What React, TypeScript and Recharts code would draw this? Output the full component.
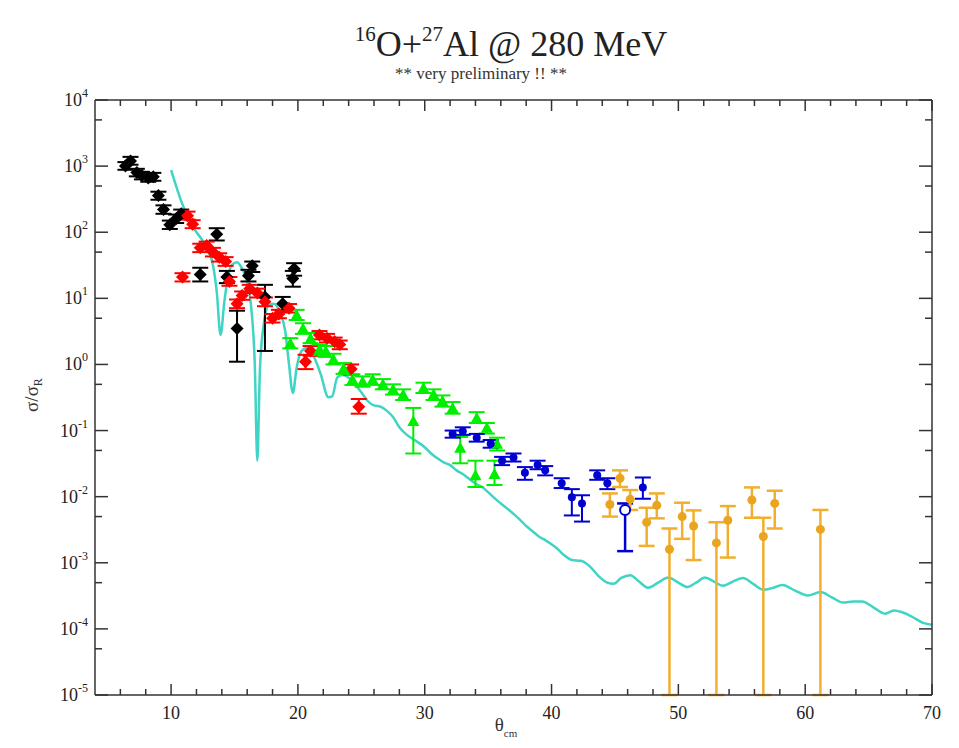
import React from 'react'
import { ComposedChart, Line, Scatter, XAxis, YAxis, ErrorBar } from 'recharts'

// [theta_cm, sigma/sigmaR, lower end of error bar, upper end of error bar]
type Pt = [number, number, number, number]

const black: Pt[] = [
  [6.4, 1000, 880, 1150], [6.8, 1200, 1050, 1380], [7.3, 800, 700, 910],
  [7.7, 720, 630, 820], [8.2, 660, 580, 750], [8.6, 690, 600, 790],
  [9.0, 360, 310, 410], [9.4, 220, 190, 255], [9.9, 130, 112, 150],
  [10.4, 160, 138, 185], [10.8, 190, 165, 220], [12.3, 23, 18, 29],
  [13.6, 93, 75, 115], [14.4, 21, 17, 26], [15.2, 3.5, 1.1, 6.5],
  [16.1, 22, 18, 27], [16.4, 31, 25, 36], [17.4, 10.5, 1.6, 16],
  [18.8, 8.3, 6.5, 10.5], [19.6, 20, 15, 26], [19.7, 28, 22, 34],
]

const red: Pt[] = [
  [10.9, 21, 18, 24], [11.3, 178, 155, 205], [11.7, 132, 115, 152],
  [12.3, 58, 50, 67], [12.8, 63, 55, 72], [13.3, 50, 43, 58],
  [13.8, 42, 36, 48], [14.3, 36, 31, 42], [14.6, 18, 15.5, 21],
  [15.2, 8.3, 7.1, 9.6], [15.6, 11, 9.5, 12.7], [16.2, 14, 12, 16],
  [16.8, 12, 10.3, 14], [17.4, 8.9, 7.6, 10.3], [18.0, 5.0, 4.3, 5.8],
  [18.5, 5.8, 5.0, 6.7], [19.3, 7.1, 6.1, 8.2], [20.6, 1.1, 0.85, 1.4],
  [21.0, 1.6, 1.35, 1.9], [21.7, 2.8, 2.4, 3.2], [22.3, 2.5, 2.15, 2.9],
  [22.9, 2.2, 1.9, 2.55], [23.3, 2.0, 1.7, 2.3], [24.2, 0.85, 0.7, 1.0],
  [24.8, 0.23, 0.18, 0.3],
]

const green: Pt[] = [
  [19.4, 2.1, 1.75, 2.5], [19.9, 5.6, 4.7, 6.7], [20.4, 3.5, 2.9, 4.2],
  [21.0, 2.5, 2.1, 3.0], [21.7, 1.7, 1.4, 2.0], [22.2, 1.6, 1.3, 1.9],
  [22.8, 1.2, 1.0, 1.45], [23.6, 0.87, 0.72, 1.05], [24.3, 0.59, 0.49, 0.71],
  [25.1, 0.55, 0.46, 0.66], [25.9, 0.59, 0.49, 0.71], [26.7, 0.5, 0.42, 0.6],
  [27.5, 0.42, 0.35, 0.5], [28.3, 0.35, 0.29, 0.42], [29.1, 0.14, 0.045, 0.22],
  [29.9, 0.44, 0.37, 0.53], [30.7, 0.35, 0.29, 0.42], [31.4, 0.28, 0.23, 0.34],
  [32.2, 0.22, 0.18, 0.27], [32.8, 0.055, 0.032, 0.08], [34.0, 0.021, 0.014, 0.035],
  [34.1, 0.155, 0.13, 0.19], [34.9, 0.11, 0.09, 0.13], [35.5, 0.022, 0.015, 0.035],
  [35.7, 0.063, 0.05, 0.078],
]

const blue: Pt[] = [
  [32.2, 0.089, 0.078, 0.1], [33.0, 0.098, 0.086, 0.112], [34.1, 0.078, 0.068, 0.089],
  [35.2, 0.063, 0.055, 0.072], [36.1, 0.035, 0.03, 0.04], [37.0, 0.039, 0.034, 0.045],
  [37.9, 0.023, 0.018, 0.028], [38.9, 0.03, 0.026, 0.035], [39.5, 0.025, 0.021, 0.029],
  [40.8, 0.016, 0.0135, 0.019], [41.6, 0.0098, 0.0052, 0.013], [42.4, 0.0079, 0.0042, 0.0105],
  [43.6, 0.021, 0.018, 0.025], [44.4, 0.016, 0.013, 0.019], [47.2, 0.0138, 0.0093, 0.0195],
]

const blueOpen: Pt[] = [[45.8, 0.0063, 0.0015, 0.0079]]

const orange: Pt[] = [
  [44.6, 0.0076, 0.005, 0.0112], [45.4, 0.019, 0.014, 0.025], [46.2, 0.0091, 0.0063, 0.0126],
  [47.5, 0.0041, 0.0018, 0.0068], [48.3, 0.0074, 0.0047, 0.0112], [49.3, 0.0016, 1e-5, 0.0033],
  [50.3, 0.005, 0.0023, 0.0081], [51.2, 0.0036, 0.0011, 0.0062], [53.0, 0.002, 1e-5, 0.0041],
  [53.9, 0.0044, 0.0012, 0.0072], [55.8, 0.0089, 0.0048, 0.0138], [56.7, 0.0025, 1e-5, 0.0048],
  [57.6, 0.0079, 0.0033, 0.0123], [61.2, 0.0032, 1e-5, 0.0063],
]

// optical model calculation
const theory: [number, number][] = [
  [10.0, 870], [10.4, 500], [10.8, 295], [11.2, 190], [11.6, 129], [12.0, 100],
  [12.4, 79], [12.8, 58], [13.0, 49], [13.3, 32], [13.6, 12.6], [13.9, 2.8],
  [14.2, 8.9], [14.5, 22], [14.8, 32], [15.2, 35], [15.6, 28], [16.0, 18],
  [16.3, 7.9], [16.6, 1.0], [16.8, 0.035], [17.0, 0.79], [17.3, 4.0], [17.7, 7.9],
  [18.1, 8.3], [18.6, 6.0], [19.0, 3.2], [19.3, 1.0], [19.6, 0.37], [19.9, 0.89],
  [20.3, 1.6], [20.8, 1.8], [21.3, 1.26], [21.8, 0.71], [22.4, 0.32], [22.7, 0.33],
  [23.1, 0.63], [23.5, 0.69], [24.0, 0.63], [24.5, 0.5], [25.0, 0.38], [25.5, 0.28],
  [26.0, 0.24], [26.5, 0.23], [27.0, 0.2], [27.5, 0.16], [28.0, 0.112], [28.5, 0.089],
  [29.0, 0.076], [29.5, 0.066], [30.0, 0.056], [30.5, 0.045], [31.0, 0.038], [31.5, 0.033],
  [32.0, 0.03], [32.5, 0.025], [33.0, 0.022], [33.5, 0.0186], [34.0, 0.0158], [34.5, 0.0141],
  [35.0, 0.0117], [35.5, 0.0095], [36.0, 0.0079], [36.5, 0.0066], [37.0, 0.0055], [37.5, 0.0045],
  [38.0, 0.0036], [38.5, 0.003], [39.0, 0.0025], [39.5, 0.0022], [40.0, 0.0019], [40.5, 0.0016],
  [41.0, 0.0013], [41.6, 0.0011], [42.3, 0.00107], [43.0, 0.00089], [43.7, 0.00063], [44.4, 0.0005],
  [44.9, 0.00048], [45.5, 0.00059], [46.2, 0.00065], [46.9, 0.00052], [47.6, 0.00042], [48.4, 0.0005],
  [49.2, 0.0006], [50.0, 0.0005], [50.7, 0.00043], [51.4, 0.0005], [52.1, 0.0006], [52.8, 0.00052],
  [53.5, 0.00045], [54.3, 0.00052], [55.1, 0.00059], [55.9, 0.00048], [56.7, 0.00039], [57.5, 0.00042],
  [58.2, 0.00046], [59.2, 0.00038], [60.2, 0.00032], [61.2, 0.00036], [62.1, 0.0003], [63.0, 0.00025],
  [63.8, 0.00026], [64.5, 0.00026], [65.4, 0.00021], [66.3, 0.00017], [67.0, 0.00019], [67.6, 0.00018],
  [68.5, 0.00015], [69.3, 0.000123], [70.0, 0.000115],
]

const xTicks = [6, 8, 10, 12, 14, 16, 18, 20, 22, 24, 26, 28, 30, 32, 34, 36, 38, 40,
  42, 44, 46, 48, 50, 52, 54, 56, 58, 60, 62, 64, 66, 68, 70]
const yTicks = [1e-5, 5e-5, 1e-4, 5e-4, 1e-3, 5e-3, 1e-2, 5e-2, 1e-1, 5e-1,
  1, 5, 10, 50, 100, 500, 1000, 5000, 10000]

const FONT = 'Liberation Serif'
const AXIS = '#333'

const rows = (pts: Pt[]) => pts.map(([x, y, lo, hi]) => ({ x, y, err: [y - lo, hi - y] }))
const theoryRows = theory.map(([x, y]) => ({ x, y }))

const isMajorY = (v: number) => Math.abs(Math.log10(v) - Math.round(Math.log10(v))) < 1e-6

// eslint-disable-next-line @typescript-eslint/no-explicit-any
const BottomTick = ({ x, y, payload }: any) => {
  const major = payload.value % 10 === 0
  return (
    <g>
      <line x1={x} x2={x} y1={y} y2={y - (major ? 11 : 6)} stroke={AXIS} strokeWidth={1.5} />
      {major && (
        <text x={x} y={y + 24} textAnchor="middle" fontSize={18} fontFamily={FONT} fill="#222">
          {payload.value}
        </text>
      )}
    </g>
  )
}

// eslint-disable-next-line @typescript-eslint/no-explicit-any
const TopTick = ({ x, y, payload }: any) => {
  const major = payload.value % 10 === 0
  return <line x1={x} x2={x} y1={y} y2={y + (major ? 11 : 6)} stroke={AXIS} strokeWidth={1.5} />
}

// eslint-disable-next-line @typescript-eslint/no-explicit-any
const LeftTick = ({ x, y, payload }: any) => {
  const major = isMajorY(payload.value)
  return (
    <g>
      <line x1={x} x2={x + (major ? 13 : 7)} y1={y} y2={y} stroke={AXIS} strokeWidth={1.5} />
      {major && (
        <text x={x - 7} y={y + 6} textAnchor="end" fontSize={18} fontFamily={FONT} fill="#222">
          10<tspan dy={-9} fontSize={12}>{Math.round(Math.log10(payload.value))}</tspan>
        </text>
      )}
    </g>
  )
}

// eslint-disable-next-line @typescript-eslint/no-explicit-any
const RightTick = ({ x, y, payload }: any) => {
  const major = isMajorY(payload.value)
  return <line x1={x} x2={x - (major ? 13 : 7)} y1={y} y2={y} stroke={AXIS} strokeWidth={1.5} />
}

// eslint-disable-next-line @typescript-eslint/no-explicit-any
const diamond = (fill: string) => ({ cx, cy }: any) => (
  <path d={`M${cx},${cy - 6.5}L${cx + 6.5},${cy}L${cx},${cy + 6.5}L${cx - 6.5},${cy}Z`} fill={fill} />
)
// eslint-disable-next-line @typescript-eslint/no-explicit-any
const triangle = (fill: string) => ({ cx, cy }: any) => (
  <path d={`M${cx},${cy - 6}L${cx + 6},${cy + 5}L${cx - 6},${cy + 5}Z`} fill={fill} />
)
// eslint-disable-next-line @typescript-eslint/no-explicit-any
const dot = (fill: string, r: number) => ({ cx, cy }: any) => <circle cx={cx} cy={cy} r={r} fill={fill} />
// eslint-disable-next-line @typescript-eslint/no-explicit-any
const ring = (stroke: string) => ({ cx, cy }: any) => (
  <circle cx={cx} cy={cy} r={5} fill="#fff" stroke={stroke} strokeWidth={2} />
)

const series = [
  { name: 'black', pts: black, color: '#000000', shape: diamond('#000000'), ew: 2 },
  { name: 'red', pts: red, color: '#ff0000', shape: diamond('#ff0000'), ew: 2 },
  { name: 'green', pts: green, color: '#00ee00', shape: triangle('#00ee00'), ew: 2 },
  { name: 'blue', pts: blue, color: '#0000d0', shape: dot('#0000d0', 4), ew: 2 },
  { name: 'blueOpen', pts: blueOpen, color: '#0000d0', shape: ring('#0000d0'), ew: 2.5 },
  { name: 'orange', pts: orange, color: '#f2ae2e', shape: dot('#eaa520', 4.5), ew: 2.5 },
]

const axisLine = { stroke: AXIS, strokeWidth: 1.5 }

export default function App() {
  return (
    <div style={{ position: 'absolute', left: 0, top: 0, width: 959, height: 748, background: '#fff', fontFamily: FONT }}>
      <ComposedChart width={959} height={748} margin={{ top: 90, right: 17, bottom: 23, left: 35 }}>
        <XAxis
          xAxisId="b" dataKey="x" type="number" domain={[4, 70]} allowDataOverflow
          ticks={xTicks} interval={0} height={30} tickSize={0} tickMargin={0}
          axisLine={axisLine} tickLine={false} tick={BottomTick}
        />
        <XAxis
          xAxisId="t" orientation="top" dataKey="x" type="number" domain={[4, 70]} allowDataOverflow
          ticks={xTicks} interval={0} height={10} tickSize={0} tickMargin={0}
          axisLine={axisLine} tickLine={false} tick={TopTick}
        />
        <YAxis
          yAxisId="l" dataKey="y" type="number" scale="log" domain={[1e-5, 1e4]} allowDataOverflow
          ticks={yTicks} interval={0} width={60} tickSize={0} tickMargin={0}
          axisLine={axisLine} tickLine={false} tick={LeftTick}
        />
        <YAxis
          yAxisId="r" orientation="right" dataKey="y" type="number" scale="log" domain={[1e-5, 1e4]} allowDataOverflow
          ticks={yTicks} interval={0} width={10} tickSize={0} tickMargin={0}
          axisLine={axisLine} tickLine={false} tick={RightTick}
        />
        <Line
          data={theoryRows} dataKey="y" xAxisId="b" yAxisId="l" type="monotone"
          stroke="#3fd4c4" strokeWidth={2.5} dot={false} isAnimationActive={false}
        />
        {/* invisible anchor so the top / right frame axes get a domain */}
        <Line
          data={theoryRows} dataKey="y" xAxisId="t" yAxisId="r" type="monotone"
          stroke="none" dot={false} activeDot={false} isAnimationActive={false}
        />
        {series.map(s => (
          <Scatter
            key={s.name} data={rows(s.pts)} dataKey="y" xAxisId="b" yAxisId="l"
            shape={s.shape} isAnimationActive={false}
          >
            <ErrorBar dataKey="err" direction="y" width={8} stroke={s.color} strokeWidth={s.ew} />
          </Scatter>
        ))}
      </ComposedChart>
      <svg width={959} height={748} style={{ position: 'absolute', left: 0, top: 0, pointerEvents: 'none' }}>
        <text x={511} y={56} textAnchor="middle" fontSize={36} fontFamily={FONT} fill="#222">
          <tspan fontSize={21} dy={-15}>16</tspan>
          <tspan dy={15}>O+</tspan>
          <tspan fontSize={21} dy={-15}>27</tspan>
          <tspan dy={15}>Al @ 280 MeV</tspan>
        </text>
        <text x={481} y={79} textAnchor="middle" fontSize={17} fontFamily={FONT} fill="#333">
          ** very preliminary !! **
        </text>
        <text transform="translate(38,395) rotate(-90)" textAnchor="middle" fontSize={19} fontFamily={FONT} fill="#333">
          σ/σ<tspan fontSize={12} dy={4}>R</tspan>
        </text>
        <text x={506} y={731} textAnchor="middle" fontSize={19} fontFamily={FONT} fill="#333">
          θ<tspan fontSize={11} dy={6}>cm</tspan>
        </text>
      </svg>
    </div>
  )
}
